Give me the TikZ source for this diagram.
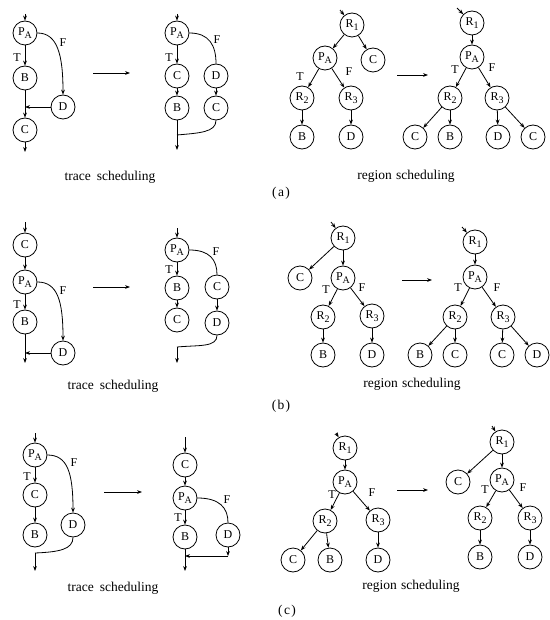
\documentclass[tikz,border=0pt]{standalone}
\usepackage{fontspec}
\setmainfont{Liberation Serif}
\usetikzlibrary{arrows.meta}

\newcommand{\subtag}[2]{#1\raisebox{-0.6ex}{\fontsize{10}{10}\selectfont #2}}

\begin{document}
\begin{tikzpicture}[x=1pt, y=-1pt, line width=0.8pt,
    >={Stealth[length=5pt, width=3.8pt]},
    vtx/.style={circle, draw, minimum size=24pt, inner sep=0pt, font=\fontsize{12}{13}\selectfont},
    brlbl/.style={inner sep=0pt, font=\fontsize{12}{13}\selectfont},
    capt/.style={inner sep=0pt, font=\fontsize{13.5}{16}\selectfont}]
  \useasboundingbox (0,0) rectangle (549,620);

  % ---------- (a) ----------
  \node[vtx] (a1P) at (25,33) {\subtag{P}{A}};
  \node[vtx] (a1B) at (25,78) {B};
  \node[vtx] (a1D) at (63,107) {D};
  \node[vtx] (a1C) at (25,130) {C};
  \coordinate (a1in) at (25,14);
  \coordinate (a1out) at (25,152);
  \coordinate (a1j) at (25,107);
  \node[brlbl] (a1T) at (17,58) {T};
  \node[brlbl] (a1F) at (63,43) {F};
  \draw[->] (a1in) -- (a1P);
  \draw[->] (a1P) -- (a1B);
  \draw[->] (a1P.east) .. controls +(20,0) and +(0,-40) .. (a1D.north);
  \draw[->] (a1B) -- (a1C);
  \draw[->] (a1D) -- (a1j);
  \draw[->] (a1C) -- (a1out);

  \coordinate (a1go) at (93,73);
  \coordinate (a2go) at (130,73);
  \draw[->] (a1go) -- (a2go);

  \node[vtx] (a2P) at (177,33) {\subtag{P}{A}};
  \node[vtx] (a2C) at (177,76) {C};
  \node[vtx] (a2B) at (177,108) {B};
  \node[vtx] (a2D) at (216,76) {D};
  \node[vtx] (a2C2) at (216,108) {C};
  \coordinate (a2in) at (177,14);
  \coordinate (a2out) at (177,150);
  \coordinate (a2j) at (177,135);
  \node[brlbl] (a2T) at (169,58) {T};
  \node[brlbl] (a2F) at (217,40) {F};
  \draw[->] (a2in) -- (a2P);
  \draw[->] (a2P) -- (a2C);
  \draw[->] (a2C) -- (a2B);
  \draw[->] (a2B) -- (a2out);
  \draw (a2P.east) .. controls +(20,0) and +(0,-18) .. (a2D.north);
  \draw[->] (a2D) -- (a2C2);
  \draw (a2C2.south) .. controls +(0,12) and +(22,-2) .. (a2j);

  \node[vtx] (a3R1) at (352,25) {\subtag{R}{1}};
  \node[vtx] (a3P) at (325,58) {\subtag{P}{A}};
  \node[vtx] (a3C) at (373,60) {C};
  \node[vtx] (a3R2) at (302,98) {\subtag{R}{2}};
  \node[vtx] (a3R3) at (351,98) {\subtag{R}{3}};
  \node[vtx] (a3B) at (302,137) {B};
  \node[vtx] (a3D) at (351,137) {D};
  \coordinate (a3in) at (340,10);
  \node[brlbl] (a3T) at (300,77) {T};
  \node[brlbl] (a3F) at (349,72) {F};
  \draw[->] (a3in) -- (a3R1);
  \draw[->] (a3R1) -- (a3P);
  \draw[->] (a3R1) -- (a3C);
  \draw[->] (a3P) -- (a3R2);
  \draw[->] (a3P) -- (a3R3);
  \draw[->] (a3R2) -- (a3B);
  \draw[->] (a3R3) -- (a3D);

  \coordinate (a3go) at (397,75);
  \coordinate (a4go) at (428,75);
  \draw[->] (a3go) -- (a4go);

  \node[vtx] (a4R1) at (472,23) {\subtag{R}{1}};
  \node[vtx] (a4P) at (472,57) {\subtag{P}{A}};
  \node[vtx] (a4R2) at (450,98) {\subtag{R}{2}};
  \node[vtx] (a4R3) at (497,98) {\subtag{R}{3}};
  \node[vtx] (a4C) at (415,137) {C};
  \node[vtx] (a4B) at (450,137) {B};
  \node[vtx] (a4D) at (498,137) {D};
  \node[vtx] (a4C2) at (533,137) {C};
  \coordinate (a4in) at (457,8);
  \node[brlbl] (a4T) at (455,70) {T};
  \node[brlbl] (a4F) at (492,68) {F};
  \draw[->] (a4in) -- (a4R1);
  \draw[->] (a4R1) -- (a4P);
  \draw[->] (a4P) -- (a4R2);
  \draw[->] (a4P) -- (a4R3);
  \draw[->] (a4R2) -- (a4C);
  \draw[->] (a4R2) -- (a4B);
  \draw[->] (a4R3) -- (a4D);
  \draw[->] (a4R3) -- (a4C2);

  \node[capt] (aTrace) at (110,177) {trace\hspace{0.45em}scheduling};
  \node[capt] (aRegion) at (406,176) {region\hspace{0.3em}scheduling};
  \node[capt] (aTag) at (281,193) {(\hspace{0.1em}a\hspace{0.1em})};

  % ---------- (b) ----------
  \node[vtx] (b1C) at (25,245) {C};
  \node[vtx] (b1P) at (25,282) {\subtag{P}{A}};
  \node[vtx] (b1B) at (25,322) {B};
  \node[vtx] (b1D) at (63,353) {D};
  \coordinate (b1in) at (25,222);
  \coordinate (b1out) at (25,363);
  \coordinate (b1j) at (25,353);
  \node[brlbl] (b1T) at (17,305) {T};
  \node[brlbl] (b1F) at (63,291) {F};
  \draw[->] (b1in) -- (b1C);
  \draw[->] (b1C) -- (b1P);
  \draw[->] (b1P) -- (b1B);
  \draw[->] (b1P.east) .. controls +(20,0) and +(0,-40) .. (b1D.north);
  \draw[->] (b1B) -- (b1out);
  \draw[->] (b1D) -- (b1j);

  \coordinate (b1go) at (93,287);
  \coordinate (b2go) at (130,287);
  \draw[->] (b1go) -- (b2go);

  \node[vtx] (b2P) at (177,250) {\subtag{P}{A}};
  \node[vtx] (b2B) at (177,288) {B};
  \node[vtx] (b2C) at (177,320) {C};
  \node[vtx] (b2C2) at (217,287) {C};
  \node[vtx] (b2D) at (217,323) {D};
  \coordinate (b2in) at (177,228);
  \coordinate (b2j) at (177,347);
  \coordinate (b2out) at (177,363);
  \node[brlbl] (b2T) at (169,270) {T};
  \node[brlbl] (b2F) at (216,252) {F};
  \draw[->] (b2in) -- (b2P);
  \draw[->] (b2P) -- (b2B);
  \draw[->] (b2B) -- (b2C);
  \draw (b2P.east) .. controls +(20,0) and +(0,-15) .. (b2C2.north);
  \draw[->] (b2C2) -- (b2D);
  \draw (b2D.south) .. controls +(0,12) and +(22,-2) .. (b2j);
  \draw[->] (b2j) -- (b2out);

  \node[vtx] (b3R1) at (343,238) {\subtag{R}{1}};
  \node[vtx] (b3C) at (300,278) {C};
  \node[vtx] (b3P) at (343,278) {\subtag{P}{A}};
  \node[vtx] (b3R2) at (323,317) {\subtag{R}{2}};
  \node[vtx] (b3R3) at (372,316) {\subtag{R}{3}};
  \node[vtx] (b3B) at (323,355) {B};
  \node[vtx] (b3D) at (372,355) {D};
  \coordinate (b3in) at (331,222);
  \node[brlbl] (b3T) at (326,290) {T};
  \node[brlbl] (b3F) at (362,288) {F};
  \draw[->] (b3in) -- (b3R1);
  \draw[->] (b3R1) -- (b3C);
  \draw[->] (b3R1) -- (b3P);
  \draw[->] (b3P) -- (b3R2);
  \draw[->] (b3P) -- (b3R3);
  \draw[->] (b3R2) -- (b3B);
  \draw[->] (b3R3) -- (b3D);

  \coordinate (b3go) at (402,280);
  \coordinate (b4go) at (432,280);
  \draw[->] (b3go) -- (b4go);

  \node[vtx] (b4R1) at (475,242) {\subtag{R}{1}};
  \node[vtx] (b4P) at (475,277) {\subtag{P}{A}};
  \node[vtx] (b4R2) at (455,317) {\subtag{R}{2}};
  \node[vtx] (b4R3) at (503,317) {\subtag{R}{3}};
  \node[vtx] (b4B) at (420,355) {B};
  \node[vtx] (b4C) at (455,355) {C};
  \node[vtx] (b4C2) at (502,355) {C};
  \node[vtx] (b4D) at (537,355) {D};
  \coordinate (b4in) at (462,227);
  \node[brlbl] (b4T) at (458,288) {T};
  \node[brlbl] (b4F) at (497,288) {F};
  \draw[->] (b4in) -- (b4R1);
  \draw[->] (b4R1) -- (b4P);
  \draw[->] (b4P) -- (b4R2);
  \draw[->] (b4P) -- (b4R3);
  \draw[->] (b4R2) -- (b4B);
  \draw[->] (b4R2) -- (b4C);
  \draw[->] (b4R3) -- (b4C2);
  \draw[->] (b4R3) -- (b4D);

  \node[capt] (bTrace) at (113,386) {trace\hspace{0.45em}scheduling};
  \node[capt] (bRegion) at (412,384) {region\hspace{0.3em}scheduling};
  \node[capt] (bTag) at (281,406) {(\hspace{0.1em}b\hspace{0.1em})};

  % ---------- (c) ----------
  \node[vtx] (c1P) at (35,455) {\subtag{P}{A}};
  \node[vtx] (c1C) at (35,495) {C};
  \node[vtx] (c1B) at (35,535) {B};
  \node[vtx] (c1D) at (73,525) {D};
  \coordinate (c1in) at (35,433);
  \coordinate (c1j) at (35,553);
  \coordinate (c1out) at (35,571);
  \node[brlbl] (c1T) at (27,477) {T};
  \node[brlbl] (c1F) at (74,463) {F};
  \draw[->] (c1in) -- (c1P);
  \draw[->] (c1P) -- (c1C);
  \draw[->] (c1C) -- (c1B);
  \draw[->] (c1P.east) .. controls +(20,0) and +(0,-40) .. (c1D.north);
  \draw (c1D.south) .. controls +(0,12) and +(24,-1) .. (c1j);
  \draw[->] (c1j) -- (c1out);

  \coordinate (c1go) at (104,492);
  \coordinate (c2go) at (142,492);
  \draw[->] (c1go) -- (c2go);

  \node[vtx] (c2C) at (185,465) {C};
  \node[vtx] (c2P) at (185,498) {\subtag{P}{A}};
  \node[vtx] (c2B) at (185,537) {B};
  \node[vtx] (c2D) at (228,535) {D};
  \coordinate (c2in) at (185,437);
  \coordinate (c2out) at (185,571);
  \coordinate (c2k) at (228,556);
  \coordinate (c2j) at (185,556);
  \node[brlbl] (c2T) at (178,518) {T};
  \node[brlbl] (c2F) at (227,500) {F};
  \draw[->] (c2in) -- (c2C);
  \draw[->] (c2C) -- (c2P);
  \draw[->] (c2P) -- (c2B);
  \draw[->] (c2B) -- (c2out);
  \draw (c2P.east) .. controls +(22,0) and +(0,-15) .. (c2D.north);
  \draw[->] (c2D) -- (c2k);
  \draw[->] (c2k) -- (c2j);

  \node[vtx] (c3R1) at (345,448) {\subtag{R}{1}};
  \node[vtx] (c3P) at (345,482) {\subtag{P}{A}};
  \node[vtx] (c3R2) at (325,521) {\subtag{R}{2}};
  \node[vtx] (c3R3) at (378,520) {\subtag{R}{3}};
  \node[vtx] (c3C) at (293,560) {C};
  \node[vtx] (c3B) at (330,560) {B};
  \node[vtx] (c3D) at (378,560) {D};
  \coordinate (c3in) at (336,433);
  \node[brlbl] (c3T) at (332,495) {T};
  \node[brlbl] (c3F) at (372,493) {F};
  \draw[->] (c3in) -- (c3R1);
  \draw[->] (c3R1) -- (c3P);
  \draw[->] (c3P) -- (c3R2);
  \draw[->] (c3P) -- (c3R3);
  \draw[->] (c3R2) -- (c3C);
  \draw[->] (c3R2) -- (c3B);
  \draw[->] (c3R3) -- (c3D);

  \coordinate (c3go) at (397,490);
  \coordinate (c4go) at (428,490);
  \draw[->] (c3go) -- (c4go);

  \node[vtx] (c4R1) at (502,442) {\subtag{R}{1}};
  \node[vtx] (c4C) at (458,482) {C};
  \node[vtx] (c4P) at (502,480) {\subtag{P}{A}};
  \node[vtx] (c4R2) at (480,518) {\subtag{R}{2}};
  \node[vtx] (c4R3) at (530,518) {\subtag{R}{3}};
  \node[vtx] (c4B) at (480,557) {B};
  \node[vtx] (c4D) at (530,557) {D};
  \coordinate (c4in) at (492,426);
  \node[brlbl] (c4T) at (485,490) {T};
  \node[brlbl] (c4F) at (523,488) {F};
  \draw[->] (c4in) -- (c4R1);
  \draw[->] (c4R1) -- (c4C);
  \draw[->] (c4R1) -- (c4P);
  \draw[->] (c4P) -- (c4R2);
  \draw[->] (c4P) -- (c4R3);
  \draw[->] (c4R2) -- (c4B);
  \draw[->] (c4R3) -- (c4D);

  \node[capt] (cTrace) at (113,588) {trace\hspace{0.45em}scheduling};
  \node[capt] (cRegion) at (411,586) {region\hspace{0.3em}scheduling};
  \node[capt] (cTag) at (287,611) {(\hspace{0.1em}c\hspace{0.1em})};
\end{tikzpicture}
\end{document}
